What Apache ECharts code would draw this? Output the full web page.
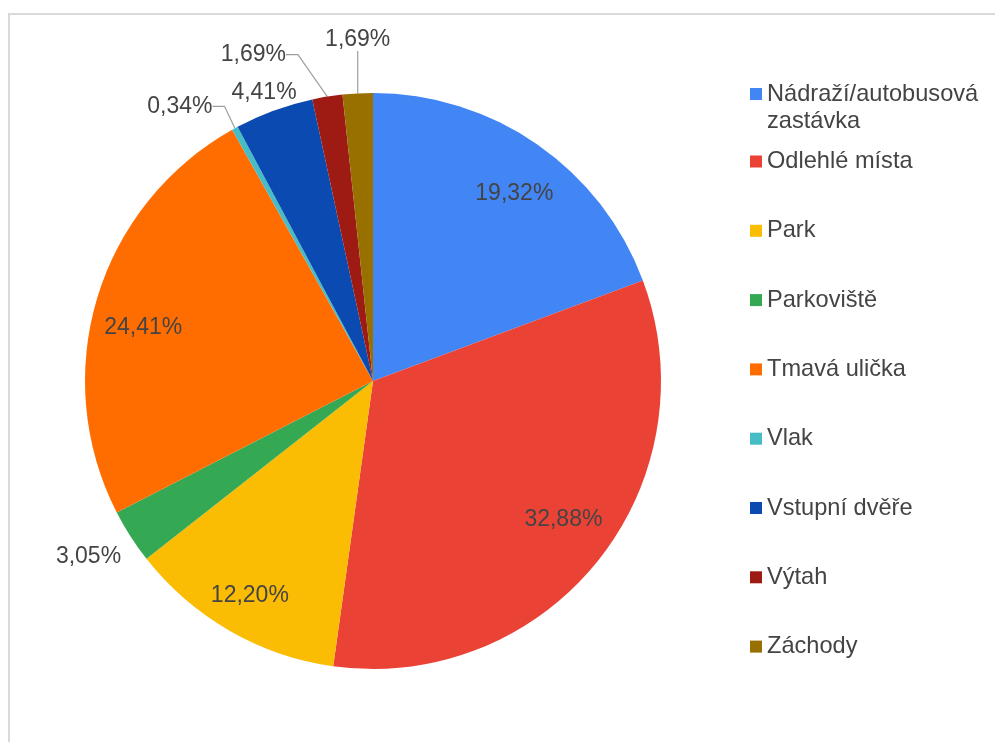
<!DOCTYPE html>
<html>
<head>
<meta charset="utf-8">
<script src="https://cdn.jsdelivr.net/npm/echarts@6/dist/echarts.min.js"></script>
<style>
html,body{margin:0;padding:0;background:#fff;}
#chart{width:995px;height:742px;}
</style>
</head>
<body>
<div id="chart"></div>
<script>
// ---- data ----
var categories = ['Nádraží/autobusová zastávka', 'Odlehlé místa', 'Park', 'Parkoviště', 'Tmavá ulička', 'Vlak', 'Vstupní dvěře', 'Výtah', 'Záchody'];
var legendLabels = ['Nádraží/autobusová\nzastávka', 'Odlehlé místa', 'Park', 'Parkoviště', 'Tmavá ulička', 'Vlak', 'Vstupní dvěře', 'Výtah', 'Záchody'];
var percentValues = [19.32, 32.88, 12.20, 3.05, 24.41, 0.34, 4.41, 1.69, 1.69];
var sliceColors = ['#4285F4', '#EA4335', '#FBBC04', '#34A853', '#FF6D01', '#46BDC6', '#0B4AB0', '#9E1B14', '#977000'];

// ---- style / layout config ----
var CX = 373, CY = 381, R = 288;
var FONT = 'Arial, "Liberation Sans", sans-serif';
var TEXT = '#444444';
var insideIdx = [0, 1, 2, 4];
// small nudges of inside labels
var insideNudge = {0: [5, 9], 1: [4, -11], 2: [-4, 7], 4: [-1, 16]};
// offsets of outside labels (centre) relative to the slice's outer edge mid-point
var outsideOffsets = {3: [-42, 20], 5: [-55, -22], 6: [-10, -18], 7: [-74, -42], 8: [0, -54]};
var lineVisible = {5: true, 7: true, 8: true};

function fmt(v) { return v.toFixed(2).replace('.', ',') + '%'; }

var total = percentValues.reduce(function (a, b) { return a + b; }, 0);
function anchorOf(i) {
  var before = 0;
  for (var k = 0; k < i; k++) before += percentValues[k];
  var mid = (before + percentValues[i] / 2) / total * 2 * Math.PI;
  return [CX + R * Math.sin(mid), CY - R * Math.cos(mid)];
}

var mainData = categories.map(function (c, i) {
  var d = { name: c, value: percentValues[i], itemStyle: { color: sliceColors[i] } };
  if (outsideOffsets[i]) {
    d.label = { show: true, position: 'outside' };
    d.labelLine = { show: true, length: 8, length2: 12, lineStyle: { color: '#9e9e9e', width: 1.2, opacity: lineVisible[i] ? 1 : 0 } };
  } else {
    d.label = { show: false };
    d.labelLine = { show: false };
  }
  return d;
});

var overlayData = categories.map(function (c, i) {
  return {
    name: c, value: percentValues[i],
    itemStyle: { color: 'rgba(0,0,0,0)' },
    label: { show: insideIdx.indexOf(i) >= 0 }
  };
});

var chart = echarts.init(document.getElementById('chart'), null, { renderer: 'canvas' });

var legendText = { fontSize: 23.6, color: TEXT, fontFamily: FONT, lineHeight: 27 };

chart.setOption({
  animation: false,
  backgroundColor: '#ffffff',
  graphic: [{
    type: 'rect', z: -10, silent: true,
    shape: { x: 9, y: 14, width: 1100, height: 900 },
    style: { fill: 'none', stroke: '#d9d9d9', lineWidth: 2 }
  }],
  legend: [{
    orient: 'vertical', left: 750, top: 81, padding: 0,
    itemWidth: 12, itemHeight: 40, itemGap: 5,
    icon: 'path://M0,0h12v12h-12z M0,40h0.01v0.01h-0.01z',
    data: [categories[0]],
    formatter: function (n) { return legendLabels[categories.indexOf(n)]; },
    textStyle: legendText,
    selectedMode: false
  }, {
    orient: 'vertical', left: 750, top: 148, padding: 0,
    itemWidth: 12, itemHeight: 12, itemGap: 42.3,
    icon: 'rect',
    data: categories.slice(1),
    formatter: function (n) { return legendLabels[categories.indexOf(n)]; },
    textStyle: legendText,
    selectedMode: false
  }],
  series: [{
    type: 'pie',
    center: [CX, CY],
    radius: [0, R],
    startAngle: 90,
    clockwise: true,
    avoidLabelOverlap: false,
    silent: true,
    itemStyle: { borderWidth: 0 },
    label: { fontSize: 23, color: TEXT, fontFamily: FONT, formatter: function (p) { return fmt(p.value); } },
    labelLayout: function (p) {
      var o = outsideOffsets[p.dataIndex];
      if (!o) return {};
      var a = anchorOf(p.dataIndex);
      return { x: a[0] + o[0], y: a[1] + o[1], align: 'center', verticalAlign: 'middle' };
    },
    data: mainData
  }, {
    type: 'pie',
    center: [CX, CY],
    radius: [200, 272],
    startAngle: 90,
    clockwise: true,
    silent: true,
    avoidLabelOverlap: false,
    itemStyle: { borderWidth: 0 },
    label: { position: 'inside', fontSize: 23, color: TEXT, fontFamily: FONT, formatter: function (p) { return fmt(p.value); } },
    labelLayout: function (p) {
      var n = insideNudge[p.dataIndex];
      return n ? { dx: n[0], dy: n[1] } : {};
    },
    labelLine: { show: false },
    data: overlayData
  }]
});
</script>
</body>
</html>
